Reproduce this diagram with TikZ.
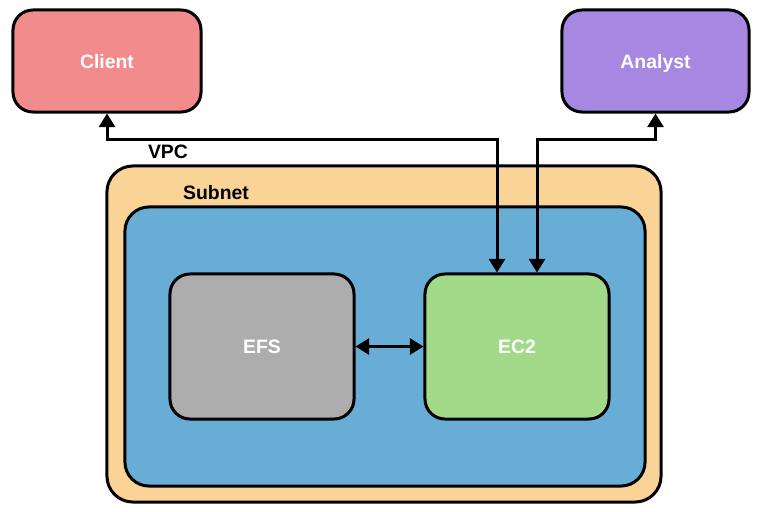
\documentclass[tikz,border=0pt]{standalone}
\usepackage{fontspec}
\setmainfont{Liberation Sans}
\usepackage{tikz}
\usetikzlibrary{arrows.meta,calc}
\definecolor{clientred}{HTML}{F28B8B}
\definecolor{analystpurple}{HTML}{A688E3}
\definecolor{vpcorange}{HTML}{FAD396}
\definecolor{subnetblue}{HTML}{67ADD5}
\definecolor{efsgray}{HTML}{ADADAD}
\definecolor{ecgreen}{HTML}{A3DA8A}

\begin{document}
\begin{tikzpicture}[x=0.025cm, y=-0.025cm,
	box/.style={draw, line width=0.075cm, rounded corners=0.5cm, inner sep=0pt,
		text height=10pt, text depth=0pt,
		text=white, font=\fontsize{13.8}{16}\selectfont\bfseries},
	lbl/.style={font=\fontsize{13.8}{16}\selectfont\bfseries},
	conn/.style={line width=0.075cm, {Triangle[length=0.34cm,width=0.4cm]}-{Triangle[length=0.34cm,width=0.4cm]}}]
	\useasboundingbox (0,0) rectangle (768,512);
	\node[box, fill=vpcorange, minimum width=13.85cm, minimum height=8.4cm, rounded corners=0.65cm] (vpc) at (384,334) {};
	\node[box, fill=subnetblue, minimum width=13cm, minimum height=6.975cm, rounded corners=0.6cm] (subnet) at (385,346.5) {};
	\node[lbl] (vpclabel) at (168,152) {VPC};
	\node[lbl] (subnetlabel) at (216,193) {Subnet};
	\node[box, fill=clientred, minimum width=4.7cm, minimum height=2.55cm] (client) at (107,61) {Client};
	\node[box, fill=analystpurple, minimum width=4.675cm, minimum height=2.55cm] (analyst) at (655.5,61) {Analyst};
	\node[box, fill=efsgray, minimum width=4.6cm, minimum height=3.625cm] (efs) at (262,346.5) {EFS};
	\node[box, fill=ecgreen, minimum width=4.6cm, minimum height=3.625cm] (ec2) at (517,346.5) {EC2};
	\draw[conn] (client.south) -- ++(0,26) -| ($(ec2.north)+(-20,0)$);
	\draw[conn] (analyst.south) -- ++(0,26) -| ($(ec2.north)+(20,0)$);
	\draw[conn] (efs) -- (ec2);
\end{tikzpicture}
\end{document}
